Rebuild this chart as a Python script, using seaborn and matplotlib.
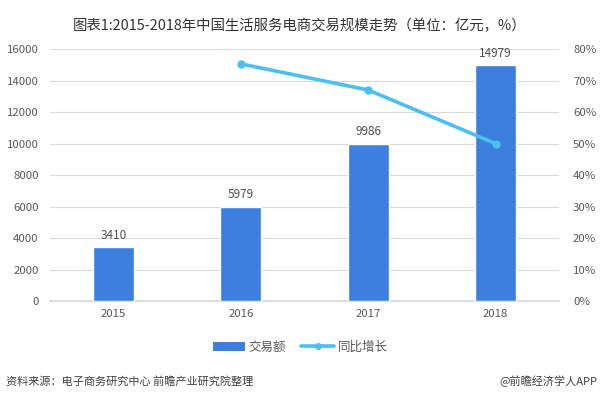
import numpy as np
import pandas as pd
import matplotlib
matplotlib.use("Agg")
import matplotlib.pyplot as plt
from matplotlib.patches import Patch
from matplotlib.lines import Line2D
from matplotlib.ticker import FuncFormatter
import seaborn as sns

# 数据
years = ["2015", "2016", "2017", "2018"]
volume = [3410, 5979, 9986, 14979]
growth_years = ["2016", "2017", "2018"]
growth = [75.3, 67.0, 50.0]

BAR_C = "#3d7fdc"
LINE_C = "#4cbff0"
TXT_C = "#595959"

sns.set_theme(style="white")
plt.rcParams["font.family"] = ["Noto Sans CJK SC", "DejaVu Sans"]

fig = plt.figure(figsize=(6.0, 3.99), dpi=100)
ax = fig.add_axes([0.083, 0.2456, 0.849, 0.6314])

df = pd.DataFrame({"year": years, "volume": volume})
sns.barplot(data=df, x="year", y="volume", color=BAR_C, width=0.32,
            saturation=1, ax=ax, zorder=3)
for i, v in enumerate(volume):
    ax.text(i, v + 350, str(v), ha="center", va="bottom", fontsize=8.5, color="#505050")

ax.set_ylim(0, 16000)
ax.set_yticks(np.arange(0, 16001, 2000))
ax.set_xlim(-0.5, 3.5)
ax.grid(axis="y", color="#d9d9d9", linewidth=0.8, zorder=0)
ax.set_xlabel("")
ax.set_ylabel("")
ax.tick_params(axis="both", labelsize=8.2, colors=TXT_C, length=0, pad=6)
ax.tick_params(axis="y", pad=8)
for s in ax.spines.values():
    s.set_visible(False)
ax.spines["bottom"].set_visible(True)
ax.spines["bottom"].set_color("#d9d9d9")

ax2 = ax.twinx()
gdf = pd.DataFrame({"pos": [years.index(y) for y in growth_years], "growth": growth})
sns.lineplot(data=gdf, x="pos", y="growth", color=LINE_C, linewidth=2.6,
             marker="o", markersize=6, markeredgewidth=0, ax=ax2, zorder=4)
ax2.set_ylim(0, 80)
ax2.set_yticks(np.arange(0, 81, 10))
ax2.yaxis.set_major_formatter(FuncFormatter(lambda v, p: f"{int(v)}%"))
ax2.tick_params(axis="y", labelsize=8.2, colors=TXT_C, length=0, pad=10)
ax2.set_ylabel("")
ax2.set_xlabel("")
for s in ax2.spines.values():
    s.set_visible(False)

handles = [Patch(facecolor=BAR_C, edgecolor="none"),
           Line2D([0], [0], color=LINE_C, linewidth=2.6, marker="o", markersize=4)]
fig.legend(handles, ["交易额", "同比增长"], loc="center", bbox_to_anchor=(0.5, 0.13),
           ncol=2, frameon=False, fontsize=9, labelcolor=TXT_C,
           handlelength=2.6, handleheight=0.7, columnspacing=1.2, handletextpad=0.3)

fig.text(0.5, 0.935, "图表1:2015-2018年中国生活服务电商交易规模走势（单位：亿元，%）",
         ha="center", va="center", fontsize=10.4, color="#333333")
fig.text(0.01, 0.045, "资料来源：电子商务研究中心 前瞻产业研究院整理",
         ha="left", va="center", fontsize=8, color="#404040", style="italic")
fig.text(0.995, 0.045, "@前瞻经济学人APP",
         ha="right", va="center", fontsize=8, color="#404040")

fig.savefig("out.png", dpi=100)
